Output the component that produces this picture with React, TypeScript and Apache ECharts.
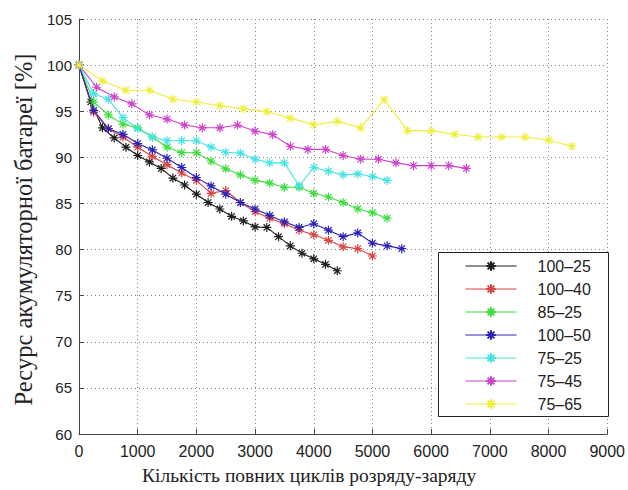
import React, { useEffect, useRef } from "react";
import * as echarts from "echarts";

const seriesNames = ["100–25", "100–40", "85–25", "100–50", "75–25", "75–45", "75–65"];
const seriesColors = ["#1e1e1e", "#d94444", "#3fdc3f", "#2a22b8", "#44e4e4", "#cc44cc", "#eeee3a"];

const cycles100_25 = [0, 200, 400, 600, 800, 1000, 1200, 1400, 1600, 1800, 2000, 2200, 2400, 2600, 2800, 3000, 3200, 3400, 3600, 3800, 4000, 4200, 4400];
const values100_25 = [100, 96.0, 93.2, 92.1, 91.1, 90.2, 89.5, 88.8, 87.75, 87.0, 86.0, 85.1, 84.4, 83.6, 83.1, 82.45, 82.4, 81.4, 80.4, 79.6, 79.0, 78.4, 77.7];

const cycles100_40 = [0, 250, 500, 750, 1000, 1250, 1500, 1750, 2000, 2250, 2500, 2750, 3000, 3250, 3500, 3750, 4000, 4250, 4500, 4750, 5000];
const values100_40 = [100, 94.9, 93.1, 92.2, 91.1, 90.1, 89.2, 88.3, 87.5, 86.1, 86.4, 85.1, 84.1, 83.4, 82.8, 82.1, 81.6, 81.0, 80.3, 80.1, 79.3];

const cycles85_25 = [0, 250, 500, 750, 1000, 1250, 1500, 1750, 2000, 2250, 2500, 2750, 3000, 3250, 3500, 3750, 4000, 4250, 4500, 4750, 5000, 5250];
const values85_25 = [100, 96.0, 94.6, 93.6, 93.2, 92.2, 91.1, 90.5, 90.5, 89.6, 88.75, 88.1, 87.5, 87.2, 86.75, 86.75, 86.1, 85.7, 85.1, 84.4, 84.0, 83.4];

const cycles100_50 = [0, 250, 500, 750, 1000, 1250, 1500, 1750, 2000, 2250, 2500, 2750, 3000, 3250, 3500, 3750, 4000, 4250, 4500, 4750, 5000, 5250, 5500];
const values100_50 = [100, 95.1, 93.1, 92.5, 91.5, 90.8, 89.9, 88.9, 87.8, 86.9, 86.0, 85.1, 84.4, 83.7, 83.0, 82.4, 82.8, 82.1, 81.4, 81.8, 80.7, 80.4, 80.1];

const cycles75_25 = [0, 250, 500, 750, 1000, 1250, 1500, 1750, 2000, 2250, 2500, 2750, 3000, 3250, 3500, 3750, 4000, 4250, 4500, 4750, 5000, 5250];
const values75_25 = [100, 96.9, 96.3, 94.3, 93.1, 92.2, 91.8, 91.8, 91.8, 91.1, 90.55, 90.45, 89.8, 89.4, 89.4, 86.9, 88.9, 88.5, 88.1, 88.2, 87.9, 87.5];

const cycles75_45 = [0, 300, 600, 900, 1200, 1500, 1800, 2100, 2400, 2700, 3000, 3300, 3600, 3900, 4200, 4500, 4800, 5100, 5400, 5700, 6000, 6300, 6600];
const values75_45 = [100, 97.6, 96.55, 95.8, 94.6, 94.15, 93.5, 93.2, 93.2, 93.5, 92.85, 92.46, 91.2, 90.86, 90.86, 90.2, 89.8, 89.8, 89.4, 89.1, 89.1, 89.1, 88.8];

const cycles75_65 = [0, 400, 800, 1200, 1600, 2000, 2400, 2800, 3200, 3600, 4000, 4400, 4800, 5200, 5600, 6000, 6400, 6800, 7200, 7600, 8000, 8400];
const values75_65 = [100, 98.3, 97.27, 97.27, 96.3, 96.0, 95.6, 95.25, 94.96, 94.25, 93.54, 93.9, 93.2, 96.25, 92.9, 92.9, 92.5, 92.2, 92.2, 92.2, 91.86, 91.2];

const allCycles = [cycles100_25, cycles100_40, cycles85_25, cycles100_50, cycles75_25, cycles75_45, cycles75_65];
const allValues = [values100_25, values100_40, values85_25, values100_50, values75_25, values75_45, values75_65];

const xTitle = "Кількість повних циклів розряду-заряду";
const yTitle = "Ресурс акумуляторної батареї [%]";

const asterisk = "path://M0,5L10,5M5,0L5,10M1.46,1.46L8.54,8.54M8.54,1.46L1.46,8.54";

export default function App() {
  const ref = useRef<HTMLDivElement>(null);
  useEffect(() => {
    document.body.style.margin = "0";
    if (!ref.current) return;
    const chart = echarts.init(ref.current, undefined, { renderer: "svg" });
    const tickFont = { fontFamily: "Liberation Sans", fontSize: 15, color: "#222" };
    const split = { show: true, lineStyle: { color: "#8a8a8a", width: 1, type: [1, 3] as any } };
    chart.setOption({
      animation: false,
      backgroundColor: "#fff",
      grid: { left: 79, right: 19, top: 19, bottom: 53, containLabel: false },
      xAxis: {
        type: "value",
        min: 0,
        max: 9000,
        interval: 1000,
        name: xTitle,
        nameLocation: "middle",
        nameGap: 31,
        nameTextStyle: { fontFamily: "Liberation Serif", fontSize: 19.5, color: "#222", padding: [0, 68, 0, 0] },
        axisLine: { show: true, onZero: false, lineStyle: { color: "#444", width: 1 } },
        axisTick: { show: true, inside: true, length: 5, lineStyle: { color: "#444" } },
        axisLabel: { ...tickFont, fontSize: 16, margin: 9, formatter: (v: number) => String(v) },
        splitLine: split,
      },
      yAxis: {
        type: "value",
        min: 60,
        max: 105,
        interval: 5,
        name: yTitle,
        nameLocation: "middle",
        nameGap: 34,
        nameTextStyle: { fontFamily: "Liberation Serif", fontSize: 24.5, color: "#222", padding: [0, 6, 0, 0] },
        axisLine: { show: true, lineStyle: { color: "#444", width: 1 } },
        axisTick: { show: true, inside: true, length: 5, lineStyle: { color: "#444" } },
        axisLabel: { ...tickFont, margin: 7, formatter: (v: number) => String(v) },
        splitLine: split,
      },
      legend: {
        orient: "vertical",
        left: 465,
        top: 258,
        padding: 0,
        itemWidth: 51,
        itemHeight: 12,
        itemGap: 7,
        lineStyle: { width: 1 },
        textStyle: { fontFamily: "Liberation Sans", fontSize: 16, color: "#222", lineHeight: 16, padding: [0, 0, 0, 16] },
        data: seriesNames,
      },
      graphic: [
        {
          type: "rect",
          z: 3,
          shape: { x: 438.5, y: 252.5, width: 170, height: 164 },
          style: { fill: "#fff", stroke: "#222", lineWidth: 1 },
        },
      ],
      series: seriesNames.map((name, i) => ({
        name,
        type: "line",
        symbol: asterisk,
        symbolSize: 9,
        itemStyle: { color: seriesColors[i], borderColor: seriesColors[i], borderWidth: 1.2 },
        lineStyle: { color: seriesColors[i], width: 1.1 },
        data: allCycles[i].map((c, j) => [c, allValues[i][j]]),
      })),
    });
    return () => chart.dispose();
  }, []);
  return <div ref={ref} style={{ width: 628, height: 490 }} />;
}
